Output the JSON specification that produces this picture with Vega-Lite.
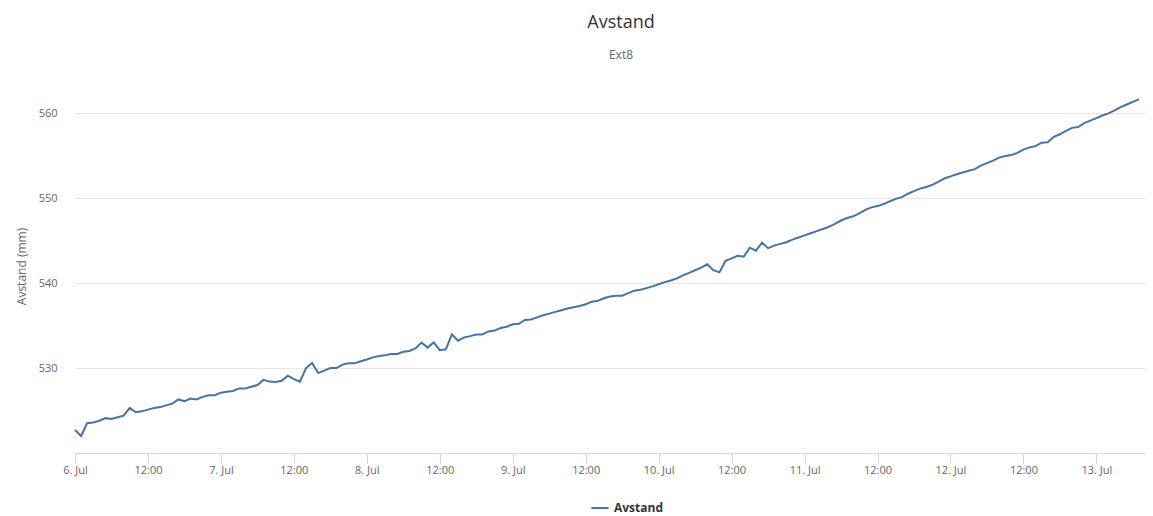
{
  "$schema": "https://vega.github.io/schema/vega-lite/v6.json",
  "width": 1070,
  "height": 374,
  "autosize": {"type": "none"},
  "padding": {"left": 75, "top": 79, "right": 8, "bottom": 63},
  "background": "#ffffff",
  "title": {
    "text": "Avstand",
    "subtitle": "Ext8",
    "anchor": "middle",
    "dx": 11,
    "offset": 18,
    "fontSize": 18,
    "fontWeight": "normal",
    "color": "#333333",
    "subtitleFontSize": 12,
    "subtitleColor": "#666666",
    "subtitlePadding": 18
  },
  "config": {
    "view": {"stroke": null},
    "font": "Open Sans"
  },
  "data": {
    "values": [
      {"t": "2020-07-06T00:00", "v": 522.7},
      {"t": "2020-07-06T01:00", "v": 522.0},
      {"t": "2020-07-06T02:00", "v": 523.5},
      {"t": "2020-07-06T03:00", "v": 523.6},
      {"t": "2020-07-06T04:00", "v": 523.8},
      {"t": "2020-07-06T05:00", "v": 524.1},
      {"t": "2020-07-06T06:00", "v": 524.0},
      {"t": "2020-07-06T07:00", "v": 524.2},
      {"t": "2020-07-06T08:00", "v": 524.4},
      {"t": "2020-07-06T09:00", "v": 525.3},
      {"t": "2020-07-06T10:00", "v": 524.8},
      {"t": "2020-07-06T11:00", "v": 524.9},
      {"t": "2020-07-06T12:00", "v": 525.1},
      {"t": "2020-07-06T13:00", "v": 525.3},
      {"t": "2020-07-06T14:00", "v": 525.4},
      {"t": "2020-07-06T15:00", "v": 525.6},
      {"t": "2020-07-06T16:00", "v": 525.8},
      {"t": "2020-07-06T17:00", "v": 526.3},
      {"t": "2020-07-06T18:00", "v": 526.1},
      {"t": "2020-07-06T19:00", "v": 526.4},
      {"t": "2020-07-06T20:00", "v": 526.3},
      {"t": "2020-07-06T21:00", "v": 526.6},
      {"t": "2020-07-06T22:00", "v": 526.8},
      {"t": "2020-07-06T23:00", "v": 526.8},
      {"t": "2020-07-07T00:00", "v": 527.1},
      {"t": "2020-07-07T01:00", "v": 527.2},
      {"t": "2020-07-07T02:00", "v": 527.3},
      {"t": "2020-07-07T03:00", "v": 527.6},
      {"t": "2020-07-07T04:00", "v": 527.6},
      {"t": "2020-07-07T05:00", "v": 527.8},
      {"t": "2020-07-07T06:00", "v": 528.0},
      {"t": "2020-07-07T07:00", "v": 528.6},
      {"t": "2020-07-07T08:00", "v": 528.4},
      {"t": "2020-07-07T09:00", "v": 528.35},
      {"t": "2020-07-07T10:00", "v": 528.5},
      {"t": "2020-07-07T11:00", "v": 529.1},
      {"t": "2020-07-07T12:00", "v": 528.7},
      {"t": "2020-07-07T13:00", "v": 528.4},
      {"t": "2020-07-07T14:00", "v": 530.0},
      {"t": "2020-07-07T15:00", "v": 530.6},
      {"t": "2020-07-07T16:00", "v": 529.4},
      {"t": "2020-07-07T17:00", "v": 529.7},
      {"t": "2020-07-07T18:00", "v": 530.0},
      {"t": "2020-07-07T19:00", "v": 530.0},
      {"t": "2020-07-07T20:00", "v": 530.4},
      {"t": "2020-07-07T21:00", "v": 530.55},
      {"t": "2020-07-07T22:00", "v": 530.55},
      {"t": "2020-07-07T23:00", "v": 530.8},
      {"t": "2020-07-08T00:00", "v": 531.0},
      {"t": "2020-07-08T01:00", "v": 531.25},
      {"t": "2020-07-08T02:00", "v": 531.4},
      {"t": "2020-07-08T03:00", "v": 531.5},
      {"t": "2020-07-08T04:00", "v": 531.65},
      {"t": "2020-07-08T05:00", "v": 531.65},
      {"t": "2020-07-08T06:00", "v": 531.9},
      {"t": "2020-07-08T07:00", "v": 532.0},
      {"t": "2020-07-08T08:00", "v": 532.3},
      {"t": "2020-07-08T09:00", "v": 533.0},
      {"t": "2020-07-08T10:00", "v": 532.4},
      {"t": "2020-07-08T11:00", "v": 533.0},
      {"t": "2020-07-08T12:00", "v": 532.1},
      {"t": "2020-07-08T13:00", "v": 532.2},
      {"t": "2020-07-08T14:00", "v": 533.95},
      {"t": "2020-07-08T15:00", "v": 533.2},
      {"t": "2020-07-08T16:00", "v": 533.6},
      {"t": "2020-07-08T17:00", "v": 533.75},
      {"t": "2020-07-08T18:00", "v": 533.95},
      {"t": "2020-07-08T19:00", "v": 533.95},
      {"t": "2020-07-08T20:00", "v": 534.3},
      {"t": "2020-07-08T21:00", "v": 534.4},
      {"t": "2020-07-08T22:00", "v": 534.7},
      {"t": "2020-07-08T23:00", "v": 534.85},
      {"t": "2020-07-09T00:00", "v": 535.15},
      {"t": "2020-07-09T01:00", "v": 535.2},
      {"t": "2020-07-09T02:00", "v": 535.65},
      {"t": "2020-07-09T03:00", "v": 535.7},
      {"t": "2020-07-09T04:00", "v": 535.95},
      {"t": "2020-07-09T05:00", "v": 536.2},
      {"t": "2020-07-09T06:00", "v": 536.4},
      {"t": "2020-07-09T07:00", "v": 536.6},
      {"t": "2020-07-09T08:00", "v": 536.8},
      {"t": "2020-07-09T09:00", "v": 537.0},
      {"t": "2020-07-09T10:00", "v": 537.15},
      {"t": "2020-07-09T11:00", "v": 537.3},
      {"t": "2020-07-09T12:00", "v": 537.5},
      {"t": "2020-07-09T13:00", "v": 537.8},
      {"t": "2020-07-09T14:00", "v": 537.9},
      {"t": "2020-07-09T15:00", "v": 538.2},
      {"t": "2020-07-09T16:00", "v": 538.4},
      {"t": "2020-07-09T17:00", "v": 538.5},
      {"t": "2020-07-09T18:00", "v": 538.5},
      {"t": "2020-07-09T19:00", "v": 538.8},
      {"t": "2020-07-09T20:00", "v": 539.1},
      {"t": "2020-07-09T21:00", "v": 539.2},
      {"t": "2020-07-09T22:00", "v": 539.4},
      {"t": "2020-07-09T23:00", "v": 539.6},
      {"t": "2020-07-10T00:00", "v": 539.85},
      {"t": "2020-07-10T01:00", "v": 540.1},
      {"t": "2020-07-10T02:00", "v": 540.3},
      {"t": "2020-07-10T03:00", "v": 540.55},
      {"t": "2020-07-10T04:00", "v": 540.9},
      {"t": "2020-07-10T05:00", "v": 541.2},
      {"t": "2020-07-10T06:00", "v": 541.5},
      {"t": "2020-07-10T07:00", "v": 541.8},
      {"t": "2020-07-10T08:00", "v": 542.2},
      {"t": "2020-07-10T09:00", "v": 541.5},
      {"t": "2020-07-10T10:00", "v": 541.25},
      {"t": "2020-07-10T11:00", "v": 542.6},
      {"t": "2020-07-10T12:00", "v": 542.9},
      {"t": "2020-07-10T13:00", "v": 543.2},
      {"t": "2020-07-10T14:00", "v": 543.1},
      {"t": "2020-07-10T15:00", "v": 544.15},
      {"t": "2020-07-10T16:00", "v": 543.8},
      {"t": "2020-07-10T17:00", "v": 544.75},
      {"t": "2020-07-10T18:00", "v": 544.1},
      {"t": "2020-07-10T19:00", "v": 544.4},
      {"t": "2020-07-10T20:00", "v": 544.6},
      {"t": "2020-07-10T21:00", "v": 544.8},
      {"t": "2020-07-10T22:00", "v": 545.1},
      {"t": "2020-07-10T23:00", "v": 545.35},
      {"t": "2020-07-11T00:00", "v": 545.6},
      {"t": "2020-07-11T01:00", "v": 545.85},
      {"t": "2020-07-11T02:00", "v": 546.1},
      {"t": "2020-07-11T03:00", "v": 546.35},
      {"t": "2020-07-11T04:00", "v": 546.6},
      {"t": "2020-07-11T05:00", "v": 546.95},
      {"t": "2020-07-11T06:00", "v": 547.35},
      {"t": "2020-07-11T07:00", "v": 547.65},
      {"t": "2020-07-11T08:00", "v": 547.85},
      {"t": "2020-07-11T09:00", "v": 548.2},
      {"t": "2020-07-11T10:00", "v": 548.6},
      {"t": "2020-07-11T11:00", "v": 548.9},
      {"t": "2020-07-11T12:00", "v": 549.05},
      {"t": "2020-07-11T13:00", "v": 549.3},
      {"t": "2020-07-11T14:00", "v": 549.6},
      {"t": "2020-07-11T15:00", "v": 549.9},
      {"t": "2020-07-11T16:00", "v": 550.1},
      {"t": "2020-07-11T17:00", "v": 550.5},
      {"t": "2020-07-11T18:00", "v": 550.8},
      {"t": "2020-07-11T19:00", "v": 551.1},
      {"t": "2020-07-11T20:00", "v": 551.3},
      {"t": "2020-07-11T21:00", "v": 551.55},
      {"t": "2020-07-11T22:00", "v": 551.9},
      {"t": "2020-07-11T23:00", "v": 552.3},
      {"t": "2020-07-12T00:00", "v": 552.55},
      {"t": "2020-07-12T01:00", "v": 552.8},
      {"t": "2020-07-12T02:00", "v": 553.0},
      {"t": "2020-07-12T03:00", "v": 553.2},
      {"t": "2020-07-12T04:00", "v": 553.4},
      {"t": "2020-07-12T05:00", "v": 553.8},
      {"t": "2020-07-12T06:00", "v": 554.1},
      {"t": "2020-07-12T07:00", "v": 554.4},
      {"t": "2020-07-12T08:00", "v": 554.75},
      {"t": "2020-07-12T09:00", "v": 554.95},
      {"t": "2020-07-12T10:00", "v": 555.05},
      {"t": "2020-07-12T11:00", "v": 555.3},
      {"t": "2020-07-12T12:00", "v": 555.7},
      {"t": "2020-07-12T13:00", "v": 555.95},
      {"t": "2020-07-12T14:00", "v": 556.1},
      {"t": "2020-07-12T15:00", "v": 556.5},
      {"t": "2020-07-12T16:00", "v": 556.55},
      {"t": "2020-07-12T17:00", "v": 557.2},
      {"t": "2020-07-12T18:00", "v": 557.5},
      {"t": "2020-07-12T19:00", "v": 557.9},
      {"t": "2020-07-12T20:00", "v": 558.25},
      {"t": "2020-07-12T21:00", "v": 558.35},
      {"t": "2020-07-12T22:00", "v": 558.8},
      {"t": "2020-07-12T23:00", "v": 559.1},
      {"t": "2020-07-13T00:00", "v": 559.4},
      {"t": "2020-07-13T01:00", "v": 559.7},
      {"t": "2020-07-13T02:00", "v": 559.95},
      {"t": "2020-07-13T03:00", "v": 560.3},
      {"t": "2020-07-13T04:00", "v": 560.7},
      {"t": "2020-07-13T05:00", "v": 561.0},
      {"t": "2020-07-13T06:00", "v": 561.3},
      {"t": "2020-07-13T07:00", "v": 561.6}
    ]
  },
  "mark": {"type": "line", "strokeWidth": 2},
  "encoding": {
    "x": {
      "field": "t",
      "type": "temporal",
      "scale": {
        "domain": [
          {"year": 2020, "month": 7, "date": 6, "hours": 0},
          {"year": 2020, "month": 7, "date": 13, "hours": 8}
        ],
        "nice": false
      },
      "axis": {
        "title": null,
        "grid": false,
        "values": [
          {"year": 2020, "month": 7, "date": 6, "hours": 0},
          {"year": 2020, "month": 7, "date": 6, "hours": 12},
          {"year": 2020, "month": 7, "date": 7, "hours": 0},
          {"year": 2020, "month": 7, "date": 7, "hours": 12},
          {"year": 2020, "month": 7, "date": 8, "hours": 0},
          {"year": 2020, "month": 7, "date": 8, "hours": 12},
          {"year": 2020, "month": 7, "date": 9, "hours": 0},
          {"year": 2020, "month": 7, "date": 9, "hours": 12},
          {"year": 2020, "month": 7, "date": 10, "hours": 0},
          {"year": 2020, "month": 7, "date": 10, "hours": 12},
          {"year": 2020, "month": 7, "date": 11, "hours": 0},
          {"year": 2020, "month": 7, "date": 11, "hours": 12},
          {"year": 2020, "month": 7, "date": 12, "hours": 0},
          {"year": 2020, "month": 7, "date": 12, "hours": 12},
          {"year": 2020, "month": 7, "date": 13, "hours": 0}
        ],
        "format": "%H:%M",
        "labelExpr": "hours(datum.value) == 0 ? date(datum.value) + '. Jul' : datum.label",
        "labelAlign": "center",
        "domainColor": "#ccd6eb",
        "tickColor": "#ccd6eb",
        "tickSize": 10,
        "labelPadding": 1,
        "labelColor": "#666666",
        "labelFontSize": 11
      }
    },
    "y": {
      "field": "v",
      "type": "quantitative",
      "scale": {"domain": [520, 564], "nice": false, "zero": false},
      "axis": {
        "title": "Avstand (mm)",
        "titleColor": "#666666",
        "titleFontSize": 12,
        "titleFontWeight": "normal",
        "titlePadding": 10,
        "values": [530, 540, 550, 560],
        "grid": true,
        "gridColor": "#e6e6e6",
        "domain": false,
        "ticks": false,
        "labelPadding": 18,
        "labelColor": "#666666",
        "labelFontSize": 11
      }
    },
    "color": {
      "datum": "Avstand",
      "type": "nominal",
      "scale": {"range": ["#4572A7"]},
      "legend": {
        "title": null,
        "orient": "none",
        "legendX": 515,
        "legendY": 419,
        "direction": "horizontal",
        "symbolType": "stroke",
        "symbolStrokeWidth": 2,
        "symbolSize": 300,
        "labelFontSize": 12,
        "labelFontWeight": "bold",
        "labelColor": "#333333"
      }
    }
  }
}
